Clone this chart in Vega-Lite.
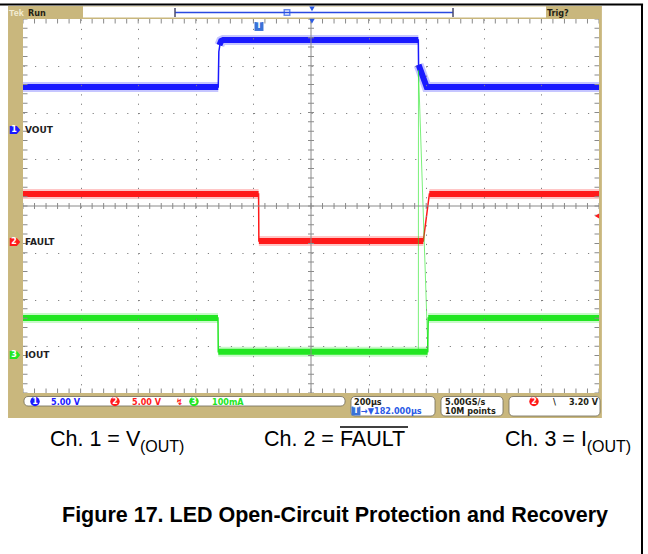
{
  "$schema": "https://vega.github.io/schema/vega-lite/v6.json",
  "width": 576,
  "height": 374,
  "autosize": {"type": "none"},
  "padding": {"left": 23, "top": 19, "right": 49, "bottom": 161},
  "background": "white",
  "config": {"view": {"stroke": null}},
  "datasets": {
    "frame": [
      {"t": -1080, "t2": 1153, "v": 4.31, "v2": 4.31},
      {"t": 1149.3, "t2": 1149.3, "v": 4.31, "v2": -7.45}
    ],
    "panel": [{"t": -1052, "t2": 1010, "v": 4.278, "v2": -4.535}],
    "screen": [
      {"t": -1000, "t2": 1000, "v": 4, "v2": -4},
      {"t": -791.7, "t2": 816, "v": 4.267, "v2": 4.032}
    ],
    "boxes": [
      {"t": -996.5, "t2": 118.1, "v": -4.075, "v2": -4.278},
      {"t": 138.9, "t2": 430.6, "v": -4.075, "v2": -4.492},
      {"t": 451.4, "t2": 666.7, "v": -4.075, "v2": -4.492},
      {"t": 687.5, "t2": 1003.5, "v": -4.075, "v2": -4.492}
    ],
    "thick": [
      {"channel": "VOUT", "seg": "a", "t": -1000, "v": 2.545},
      {"channel": "VOUT", "seg": "a", "t": -322, "v": 2.545},
      {"channel": "VOUT", "seg": "b", "t": -318, "v": 3.44},
      {"channel": "VOUT", "seg": "b", "t": -312, "v": 3.53},
      {"channel": "VOUT", "seg": "b", "t": -305, "v": 3.55},
      {"channel": "VOUT", "seg": "b", "t": 372.6, "v": 3.55},
      {"channel": "VOUT", "seg": "c", "t": 373.5, "v": 3.02},
      {"channel": "VOUT", "seg": "c", "t": 401.7, "v": 2.545},
      {"channel": "VOUT", "seg": "c", "t": 1000, "v": 2.545},
      {"channel": "FAULT", "seg": "a", "t": -1000, "v": 0.257},
      {"channel": "FAULT", "seg": "a", "t": -182, "v": 0.257},
      {"channel": "FAULT", "seg": "b", "t": -181, "v": -0.749},
      {"channel": "FAULT", "seg": "b", "t": 390, "v": -0.749},
      {"channel": "FAULT", "seg": "c", "t": 411, "v": 0.257},
      {"channel": "FAULT", "seg": "c", "t": 1000, "v": 0.257},
      {"channel": "IOUT", "seg": "a", "t": -1000, "v": -2.396},
      {"channel": "IOUT", "seg": "a", "t": -323, "v": -2.396},
      {"channel": "IOUT", "seg": "b", "t": -322, "v": -3.12},
      {"channel": "IOUT", "seg": "b", "t": 405, "v": -3.12},
      {"channel": "IOUT", "seg": "c", "t": 407, "v": -2.396},
      {"channel": "IOUT", "seg": "c", "t": 1000, "v": -2.396}
    ],
    "trace": [
      {"channel": "VOUT", "t": -1000, "v": 2.545},
      {"channel": "VOUT", "t": -322, "v": 2.545},
      {"channel": "VOUT", "t": -320, "v": 3.3},
      {"channel": "VOUT", "t": -316, "v": 3.46},
      {"channel": "VOUT", "t": -309, "v": 3.55},
      {"channel": "VOUT", "t": 372.6, "v": 3.55},
      {"channel": "VOUT", "t": 373.5, "v": 3.02},
      {"channel": "VOUT", "t": 401.7, "v": 2.545},
      {"channel": "VOUT", "t": 1000, "v": 2.545},
      {"channel": "FAULT", "t": -1000, "v": 0.257},
      {"channel": "FAULT", "t": -182, "v": 0.257},
      {"channel": "FAULT", "t": -181, "v": -0.749},
      {"channel": "FAULT", "t": 390, "v": -0.749},
      {"channel": "FAULT", "t": 411, "v": 0.257},
      {"channel": "FAULT", "t": 1000, "v": 0.257},
      {"channel": "IOUT", "t": -1000, "v": -2.396},
      {"channel": "IOUT", "t": -323, "v": -2.396},
      {"channel": "IOUT", "t": -322, "v": -3.12},
      {"channel": "IOUT", "t": 405, "v": -3.12},
      {"channel": "IOUT", "t": 407, "v": -2.396},
      {"channel": "IOUT", "t": 1000, "v": -2.396}
    ],
    "spike": [
      {"t": 372.8, "v": -3.12},
      {"t": 373.2, "v": 2.9},
      {"t": 406, "v": -3.12}
    ],
    "cross": [
      {"t": -1000, "t2": 1000, "v": 0, "v2": 0},
      {"t": 0, "t2": 0, "v": -4, "v2": 4}
    ],
    "hcenter": [{"t": -1000, "t2": 1000, "v": 0}],
    "vcenter": [{"t": 0, "v": -4, "v2": 4}],
    "hedge": [{"t": -1000, "t2": 1000, "v": 4}, {"t": -1000, "t2": 1000, "v": -4}],
    "vedge": [{"t": -1000, "v": -4, "v2": 4}, {"t": 1000, "v": -4, "v2": 4}],
    "tags": [
      {"channel": "VOUT", "num": "1", "t": -1027.8, "v": 1.626},
      {"channel": "FAULT", "num": "2", "t": -1027.8, "v": -0.77},
      {"channel": "IOUT", "num": "3", "t": -1027.8, "v": -3.187}
    ],
    "circles": [
      {"channel": "VOUT", "num": "1", "t": -958.3, "v": -4.182},
      {"channel": "FAULT", "num": "2", "t": -680.6, "v": -4.182},
      {"channel": "IOUT", "num": "3", "t": -406.3, "v": -4.182},
      {"channel": "FAULT", "num": "2", "t": 774.3, "v": -4.182}
    ],
    "scaletext": [
      {"channel": "VOUT", "label": "5.00 V", "t": -902.8, "v": -4.182},
      {"channel": "FAULT", "label": "5.00 V", "t": -621.5, "v": -4.182},
      {"channel": "FAULT", "label": "↯", "t": -468.7, "v": -4.182},
      {"channel": "IOUT", "label": "100mA", "t": -343.7, "v": -4.182}
    ],
    "chlabels": [
      {"label": "VOUT", "t": -993.1, "v": 1.626},
      {"label": "FAULT", "t": -993.1, "v": -0.77},
      {"label": "IOUT", "t": -993.1, "v": -3.187}
    ],
    "darktext": [
      {"label": "Run", "t": -982.6, "v": 4.139},
      {"label": "Trig?", "t": 819.4, "v": 4.139},
      {"label": "200µs", "t": 149.3, "v": -4.182},
      {"label": "5.00GS/s", "t": 465.3, "v": -4.182},
      {"label": "10M points", "t": 465.3, "v": -4.385},
      {"label": "\\", "t": 840.3, "v": -4.182}
    ],
    "righttext": [{"label": "3.20 V", "t": 996.5, "v": -4.182}],
    "tek": [{"label": "Tek", "t": -1048.6, "v": 4.139}],
    "bluetext": [{"label": "→▼182.000µs", "t": 173.6, "v": -4.385}],
    "recline": [{"t": -472.2, "t2": 493.1, "v": 4.139}],
    "brackets": [
      {"t": -472.2, "v": 4.235, "v2": 4.043},
      {"t": 493.1, "v": 4.235, "v2": 4.043}
    ],
    "recmark": [{"t": -83.3, "v": 4.139}],
    "trigpos": [{"t": 3.5, "v": 4.214}, {"t": 3.5, "v": 3.957}],
    "ttags": [{"t": -180.6, "v": 3.84}, {"t": 156.2, "v": -4.385}],
    "triglevel": [{"t": 993, "v": -0.214}],
    "captions": [
      {"label": "Ch. 1 = V", "t": -906.3, "v": -5.134},
      {"label": "Ch. 2 = FAULT", "t": -163.2, "v": -5.134},
      {"label": "Ch. 3 = I", "t": 673.6, "v": -5.134}
    ],
    "subs": [
      {"label": "(OUT)", "t": -593.8, "v": -5.262},
      {"label": "(OUT)", "t": 957.2, "v": -5.262}
    ],
    "overline": [{"t": 100.7, "t2": 336.8, "v": -4.727}],
    "title": [{"label": "Figure 17. LED Open-Circuit Protection and Recovery", "t": 83.3, "v": -6.759}]
  },
  "encoding": {
    "x": {
      "field": "t",
      "type": "quantitative",
      "scale": {"domain": [-1000, 1000], "nice": false, "zero": false},
      "axis": {
        "values": [-800, -600, -400, -200, 200, 400, 600, 800],
        "grid": true,
        "gridDash": [1.2, 8.15],
        "gridColor": "#808080",
        "gridOpacity": 1,
        "labels": false,
        "ticks": false,
        "domain": false,
        "title": null,
        "zindex": 1
      }
    },
    "y": {
      "field": "v",
      "type": "quantitative",
      "scale": {"domain": [-4, 4], "nice": false, "zero": false},
      "axis": {
        "values": [-3, -2, -1, 1, 2, 3],
        "grid": true,
        "gridDash": [1.2, 10.32],
        "gridColor": "#808080",
        "gridOpacity": 1,
        "labels": false,
        "ticks": false,
        "domain": false,
        "title": null,
        "zindex": 1
      }
    }
  },
  "layer": [
    {"data": {"name": "panel"}, "mark": {"type": "rect", "fill": "#c9b77d"}, "encoding": {"x2": {"field": "t2"}, "y2": {"field": "v2"}}},
    {"data": {"name": "screen"}, "mark": {"type": "rect", "fill": "white"}, "encoding": {"x2": {"field": "t2"}, "y2": {"field": "v2"}}},
    {"data": {"name": "boxes"}, "mark": {"type": "rect", "fill": "white", "stroke": "#6e6a58", "strokeWidth": 0.8, "cornerRadius": 4}, "encoding": {"x2": {"field": "t2"}, "y2": {"field": "v2"}}},
    {"data": {"name": "frame"}, "mark": {"type": "rule", "color": "black", "strokeWidth": 2}, "encoding": {"x2": {"field": "t2"}, "y2": {"field": "v2"}}},
    {
      "data": {"name": "thick"},
      "mark": {"type": "line", "strokeWidth": 10, "opacity": 0.25, "strokeCap": "butt"},
      "encoding": {
        "color": {"field": "channel", "type": "nominal", "scale": {"domain": ["VOUT", "FAULT", "IOUT"], "range": ["#1a1aff", "#ff1a1a", "#22e622"]}, "legend": null},
        "detail": {"field": "seg"}
      }
    },
    {
      "data": {"name": "thick"},
      "mark": {"type": "line", "strokeWidth": 6, "strokeCap": "butt"},
      "encoding": {
        "color": {"field": "channel", "type": "nominal", "scale": {"domain": ["VOUT", "FAULT", "IOUT"], "range": ["#1a1aff", "#ff1a1a", "#22e622"]}, "legend": null},
        "detail": {"field": "seg"}
      }
    },
    {
      "data": {"name": "trace"},
      "mark": {"type": "line", "strokeWidth": 1.5},
      "encoding": {
        "color": {"field": "channel", "type": "nominal", "scale": {"domain": ["VOUT", "FAULT", "IOUT"], "range": ["#1a1aff", "#ff1a1a", "#22e622"]}, "legend": null}
      }
    },
    {"data": {"name": "spike"}, "mark": {"type": "line", "color": "#22e622", "strokeWidth": 1, "opacity": 0.6}, "encoding": {}},
    {"data": {"name": "cross"}, "mark": {"type": "rule", "color": "#8a8a8a", "strokeWidth": 1}, "encoding": {"x2": {"field": "t2"}, "y2": {"field": "v2"}}},
    {"data": {"name": "hcenter"}, "mark": {"type": "rule", "color": "#8a8a8a", "strokeWidth": 6, "strokeDash": [1, 10.52], "strokeDashOffset": 0.5}, "encoding": {"x2": {"field": "t2"}}},
    {"data": {"name": "vcenter"}, "mark": {"type": "rule", "color": "#8a8a8a", "strokeWidth": 6, "strokeDash": [1, 8.35], "strokeDashOffset": 0.5}, "encoding": {"y2": {"field": "v2"}}},
    {"data": {"name": "hedge"}, "mark": {"type": "rule", "color": "#8a8a8a", "strokeWidth": 9, "strokeDash": [1, 10.52], "strokeDashOffset": 0.5, "clip": true}, "encoding": {"x2": {"field": "t2"}}},
    {"data": {"name": "vedge"}, "mark": {"type": "rule", "color": "#8a8a8a", "strokeWidth": 9, "strokeDash": [1, 8.35], "strokeDashOffset": 0.5, "clip": true}, "encoding": {"y2": {"field": "v2"}}},
    {
      "data": {"name": "tags"},
      "mark": {"type": "point", "filled": true, "size": 110, "opacity": 1, "shape": "M-1,-0.75L0.35,-0.75L1,0L0.35,0.75L-1,0.75Z"},
      "encoding": {
        "color": {"field": "channel", "type": "nominal", "scale": {"domain": ["VOUT", "FAULT", "IOUT"], "range": ["#1a1aff", "#ff1a1a", "#22e622"]}, "legend": null}
      }
    },
    {"data": {"name": "tags"}, "mark": {"type": "text", "color": "white", "font": "DejaVu Sans", "fontSize": 8, "fontWeight": "bold", "dx": -1, "baseline": "middle"}, "encoding": {"text": {"field": "num"}}},
    {"data": {"name": "chlabels"}, "mark": {"type": "text", "color": "#1e1e1e", "font": "DejaVu Sans", "fontSize": 9, "fontWeight": "bold", "align": "left", "baseline": "middle"}, "encoding": {"text": {"field": "label"}}},
    {
      "data": {"name": "circles"},
      "mark": {"type": "point", "filled": true, "size": 90, "opacity": 1, "shape": "circle"},
      "encoding": {
        "color": {"field": "channel", "type": "nominal", "scale": {"domain": ["VOUT", "FAULT", "IOUT"], "range": ["#1a1aff", "#ff1a1a", "#22e622"]}, "legend": null}
      }
    },
    {"data": {"name": "circles"}, "mark": {"type": "text", "color": "white", "font": "DejaVu Sans", "fontSize": 8, "fontWeight": "bold", "baseline": "middle"}, "encoding": {"text": {"field": "num"}}},
    {
      "data": {"name": "scaletext"},
      "mark": {"type": "text", "font": "DejaVu Sans Condensed, DejaVu Sans", "fontSize": 9, "fontWeight": "bold", "align": "left", "baseline": "middle"},
      "encoding": {
        "text": {"field": "label"},
        "color": {"field": "channel", "type": "nominal", "scale": {"domain": ["VOUT", "FAULT", "IOUT"], "range": ["#2a2ae6", "#e61a1a", "#2ad42a"]}, "legend": null}
      }
    },
    {"data": {"name": "darktext"}, "mark": {"type": "text", "color": "#1e1e14", "font": "DejaVu Sans Condensed, DejaVu Sans", "fontSize": 9, "fontWeight": "bold", "align": "left", "baseline": "middle"}, "encoding": {"text": {"field": "label"}}},
    {"data": {"name": "righttext"}, "mark": {"type": "text", "color": "#1e1e14", "font": "DejaVu Sans Condensed, DejaVu Sans", "fontSize": 9, "fontWeight": "bold", "align": "right", "baseline": "middle"}, "encoding": {"text": {"field": "label"}}},
    {"data": {"name": "tek"}, "mark": {"type": "text", "color": "#f3ecd2", "font": "Liberation Sans", "fontSize": 9, "fontWeight": "bold", "align": "left", "baseline": "middle"}, "encoding": {"text": {"field": "label"}}},
    {"data": {"name": "bluetext"}, "mark": {"type": "text", "color": "#2a5ae6", "font": "DejaVu Sans Condensed, DejaVu Sans", "fontSize": 9, "fontWeight": "bold", "align": "left", "baseline": "middle"}, "encoding": {"text": {"field": "label"}}},
    {"data": {"name": "recline"}, "mark": {"type": "rule", "color": "#2a4ae0", "strokeWidth": 1.5}, "encoding": {"x2": {"field": "t2"}}},
    {"data": {"name": "brackets"}, "mark": {"type": "rule", "color": "#4a4a6a", "strokeWidth": 1.5}, "encoding": {"y2": {"field": "v2"}}},
    {"data": {"name": "recmark"}, "mark": {"type": "point", "shape": "square", "size": 30, "color": "#2a5ae6", "strokeWidth": 1.5}, "encoding": {}},
    {"data": {"name": "trigpos"}, "mark": {"type": "point", "shape": "triangle-down", "size": 30, "filled": true, "color": "#2a5ae6", "opacity": 1}, "encoding": {}},
    {"data": {"name": "ttags"}, "mark": {"type": "point", "shape": "square", "size": 80, "filled": true, "color": "#3a72d8", "opacity": 1}, "encoding": {}},
    {"data": {"name": "ttags"}, "mark": {"type": "text", "text": "T", "color": "white", "font": "DejaVu Sans", "fontSize": 8, "fontWeight": "bold", "baseline": "middle"}, "encoding": {}},
    {"data": {"name": "triglevel"}, "mark": {"type": "point", "shape": "triangle-left", "size": 25, "filled": true, "color": "#ff1a1a", "opacity": 1}, "encoding": {}},
    {"data": {"name": "captions"}, "mark": {"type": "text", "color": "black", "font": "Liberation Sans", "fontSize": 21.5, "align": "left", "baseline": "alphabetic"}, "encoding": {"text": {"field": "label"}}},
    {"data": {"name": "subs"}, "mark": {"type": "text", "color": "black", "font": "Liberation Sans", "fontSize": 16, "align": "left", "baseline": "alphabetic"}, "encoding": {"text": {"field": "label"}}},
    {"data": {"name": "overline"}, "mark": {"type": "rule", "color": "black", "strokeWidth": 1.5}, "encoding": {"x2": {"field": "t2"}}},
    {"data": {"name": "title"}, "mark": {"type": "text", "color": "black", "font": "Liberation Sans", "fontSize": 21.5, "fontWeight": "bold", "align": "center", "baseline": "alphabetic"}, "encoding": {"text": {"field": "label"}}}
  ]
}
